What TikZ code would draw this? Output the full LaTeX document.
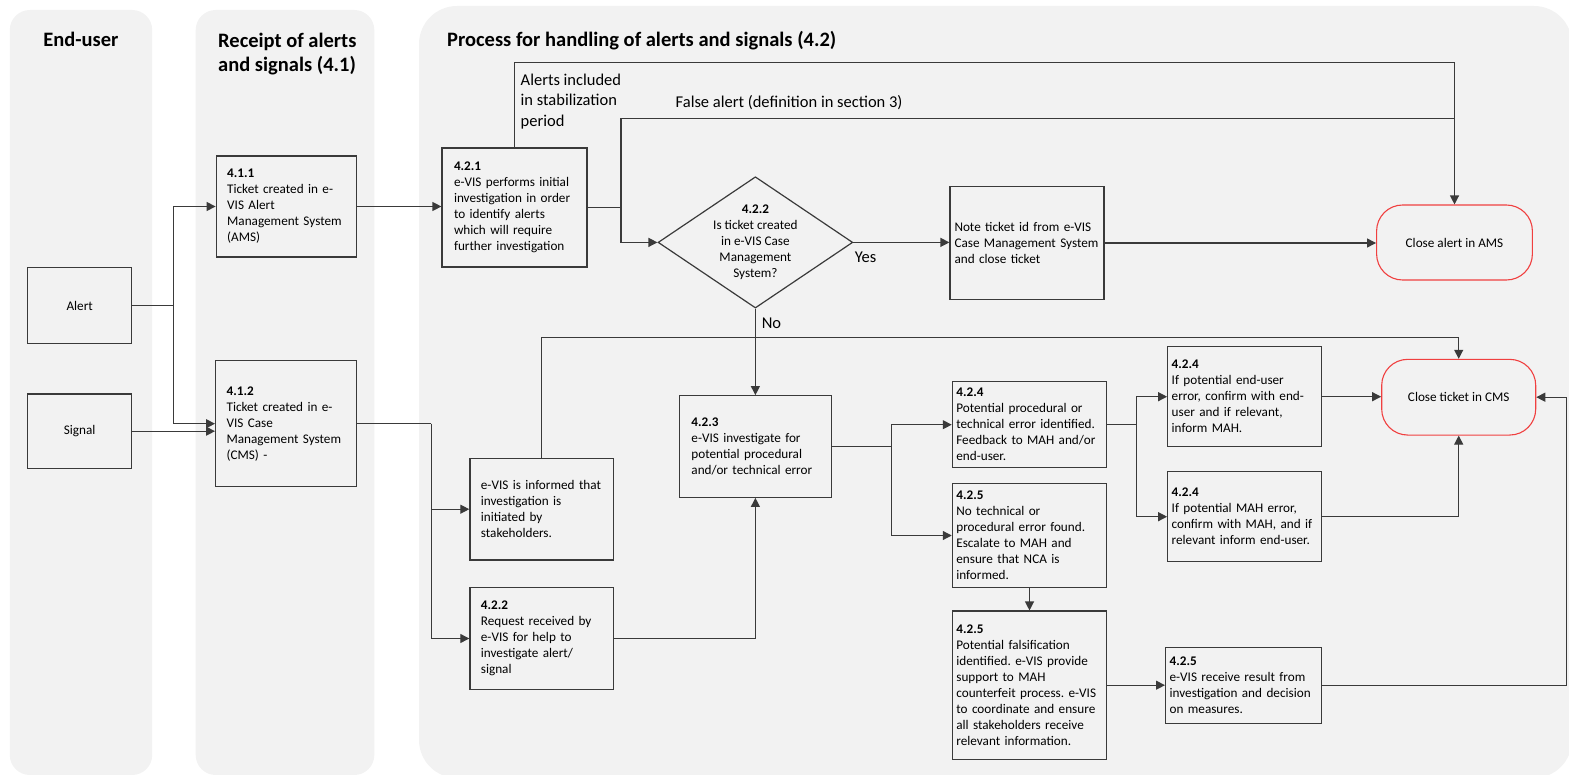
\documentclass[tikz,border=0pt]{standalone}
\usepackage{fontspec}
\setmainfont{Carlito}
\usepackage{xcolor}
\usetikzlibrary{shapes.geometric,arrows.meta,positioning,calc}
\frenchspacing

\definecolor{lanegray}{HTML}{F2F2F2}
\definecolor{lineclr}{HTML}{3A3A3A}
\definecolor{closered}{HTML}{F04040}

\begin{document}
\begin{tikzpicture}[
    x=1pt, y=-1pt,
    lanetitle/.style={font=\fontsize{20.5}{24}\selectfont\bfseries, align=left, inner sep=0},
    stepbox/.style={draw=lineclr, line width=1.2pt, align=left, inner xsep=11pt, inner ysep=0pt, font=\fontsize{13.2}{16}\selectfont},
    tight/.style={inner xsep=4pt},
    endbox/.style={draw=closered, line width=1.1pt, rounded corners=26pt, align=center, font=\fontsize{13.2}{16}\selectfont},
    cond/.style={font=\fontsize{16.5}{20.5}\selectfont, align=left, inner sep=0},
    flow/.style={draw=lineclr, line width=1.2pt, -{Triangle[length=9pt,width=9pt]}},
    link/.style={draw=lineclr, line width=1.2pt}
]
    \useasboundingbox (0,0) rectangle (1569,775);

    % Swimlanes
    \fill[lanegray, rounded corners=20pt] (9.8,10) rectangle (152.2,775);
    \fill[lanegray, rounded corners=20pt] (195.7,10) rectangle (374.3,775);
    \fill[lanegray, rounded corners=38pt] (419,6) rectangle (1572,778);

    \node[lanetitle, anchor=base] (t1) at (80.9,46.7) {End-user};
    \node[lanetitle, anchor=north west] (t2) at (218,32.5) {Receipt of alerts\\and signals (4.1)};
    \node[lanetitle, anchor=base west] (t3) at (447,46.7) {Process for handling of alerts and signals (4.2)};

    % End-user
    \node[stepbox, align=center, minimum width=104pt, minimum height=75.6pt] (alert) at (79.7,305.5) {Alert};
    \node[stepbox, align=center, minimum width=104pt, minimum height=74.3pt] (signal) at (79.7,431.2) {Signal};

    % Receipt of alerts and signals
    \node[stepbox, text width=118pt, minimum height=101pt] (ams) at (286.2,206.5)
        {\textbf{4.1.1}\\Ticket created in e-\\VIS Alert\\Management System\\(AMS)};
    \node[stepbox, text width=118.6pt, minimum height=126pt] (cms) at (285.9,423.7)
        {\textbf{4.1.2}\\Ticket created in e-\\VIS Case\\Management System\\(CMS) -};

    % Process for handling
    \node[stepbox, inner xsep=12pt, text width=121pt, minimum height=119pt] (init) at (514.5,207.5)
        {\textbf{4.2.1}\\e-VIS performs initial\\investigation in order\\to identify alerts\\which will require\\further investigation};
    \node[draw=lineclr, line width=1.2pt, diamond, inner sep=0, minimum width=194.7pt, minimum height=131.3pt] (dec) at (755.4,242.4) {};
    \node[align=center, inner sep=0, font=\fontsize{13.2}{16}\selectfont] (dectxt) at (dec.center)
        {\textbf{4.2.2}\\Is ticket created\\in e-VIS Case\\Management\\System?};
    \node[stepbox, tight, inner xsep=4.5pt, text width=145pt, minimum height=112.6pt] (note) at (1027,243)
        {Note ticket id from e-VIS\\Case Management System\\and close ticket};
    \node[endbox, minimum width=155.8pt, minimum height=75pt] (cla) at (1454.5,242.5) {Close alert in AMS};

    \node[stepbox, text width=121.6pt, minimum height=101.7pt] (inf) at (541.7,509.2)
        {e-VIS is informed that\\investigation is\\initiated by\\stakeholders.};
    \node[stepbox, text width=121.4pt, minimum height=101.6pt] (req) at (541.6,638.5)
        {\textbf{4.2.2}\\Request received by\\e-VIS for help to\\investigate alert/\\signal};
    \node[stepbox, inner xsep=12pt, text width=127.9pt, minimum height=101.6pt] (inv) at (755.4,446.5)
        {\textbf{4.2.3}\\e-VIS investigate for\\potential procedural\\and/or technical error};

    \node[stepbox, tight, text width=146.3pt, minimum height=86pt] (perr) at (1029.5,424.7)
        {\textbf{4.2.4}\\Potential procedural or\\technical error identified.\\Feedback to MAH and/or\\end-user.};
    \node[stepbox, tight, text width=146.3pt, minimum height=104.4pt] (nerr) at (1029.5,535.5)
        {\textbf{4.2.5}\\No technical or\\procedural error found.\\Escalate to MAH and\\ensure that NCA is\\informed.};
    \node[stepbox, tight, text width=146.3pt, minimum height=148.3pt] (fals) at (1029.5,685.2)
        {\textbf{4.2.5}\\Potential falsification\\identified. e-VIS provide\\support to MAH\\counterfeit process. e-VIS\\to coordinate and ensure\\all stakeholders receive\\relevant information.};

    \node[stepbox, tight, text width=146pt, minimum height=100pt] (usr) at (1244.7,396.7)
        {\textbf{4.2.4}\\If potential end-user\\error, confirm with end-\\user and if relevant,\\inform MAH.};
    \node[stepbox, tight, text width=146pt, minimum height=90pt] (mah) at (1244.7,516.7)
        {\textbf{4.2.4}\\If potential MAH error,\\confirm with MAH, and if\\relevant inform end-user.};
    \node[stepbox, tight, text width=148pt, minimum height=75.6pt] (res) at (1243.6,685.5)
        {\textbf{4.2.5}\\e-VIS receive result from\\investigation and decision\\on measures.};
    \node[endbox, minimum width=154pt, minimum height=75.7pt] (clt) at (1458.7,397.2) {Close ticket in CMS};

    % Connectors: end-user to receipt
    \coordinate (jA) at (173.2,305.5);
    \draw[link] (alert.east) -- (jA);
    \draw[flow] (jA) |- (ams.west);
    \draw[flow] (jA) |- (cms.west);
    \draw[flow] (signal.east) -- (signal.east -| cms.west);

    % Alerts
    \draw[flow] (ams.east) -- (ams.east -| init.west);
    \coordinate (jT) at (1454.5,62.7);
    \draw[flow] (init.north) |- (jT) -- (cla.north);
    \node[cond, anchor=north west] (stab) at (520.5,73.8) {Alerts included\\in stabilization\\period};
    \coordinate (jF) at (621,207.5);
    \coordinate (jG) at (1454.5,118.3);
    \draw[link] (init.east) -- (jF) |- (jG);
    \node[cond, anchor=base west] (false) at (675.5,107.2) {False alert (definition in section 3)};
    \draw[flow] (jF) |- (dec.west);
    \draw[flow] (dec.east) -- (dec.east -| note.west);
    \node[cond, anchor=base west] (yes) at (854.6,262.3) {Yes};
    \draw[flow] (note.east) -- (note.east -| cla.west);
    \draw[flow] (dec.south) -- (inv.north);
    \node[cond, anchor=base west] (no) at (761.6,328.3) {No};

    % Signals
    \coordinate (jC) at (431.2,423.7);
    \draw[link] (cms.east) -- (jC);
    \draw[flow] (jC) |- (inf.west);
    \draw[flow] (jC) |- (req.west);
    \draw[flow] (req.east) -| (inv.south);
    \coordinate (jB) at (1458.7,337.3);
    \draw[flow] (inf.north) |- (jB) -- (clt.north);

    % Investigation
    \coordinate (jD) at (891.3,446.5);
    \draw[link] (inv.east) -- (jD);
    \draw[flow] (jD) |- (perr.west);
    \draw[flow] (jD) |- (nerr.west);
    \coordinate (jE) at (1136.3,424.7);
    \draw[link] (perr.east) -- (jE);
    \draw[flow] (jE) |- (usr.west);
    \draw[flow] (jE) |- (mah.west);
    \draw[flow] (usr.east) -- (usr.east -| clt.west);
    \draw[flow] (mah.east) -| (clt.south);
    \draw[flow] (nerr.south) -- (fals.north);
    \draw[flow] (fals.east) -- (fals.east -| res.west);
    \coordinate (jR) at (1566.3,685.5);
    \draw[link] (res.east) -- (jR);
    \draw[flow] (jR) |- (clt.east);
\end{tikzpicture}
\end{document}
